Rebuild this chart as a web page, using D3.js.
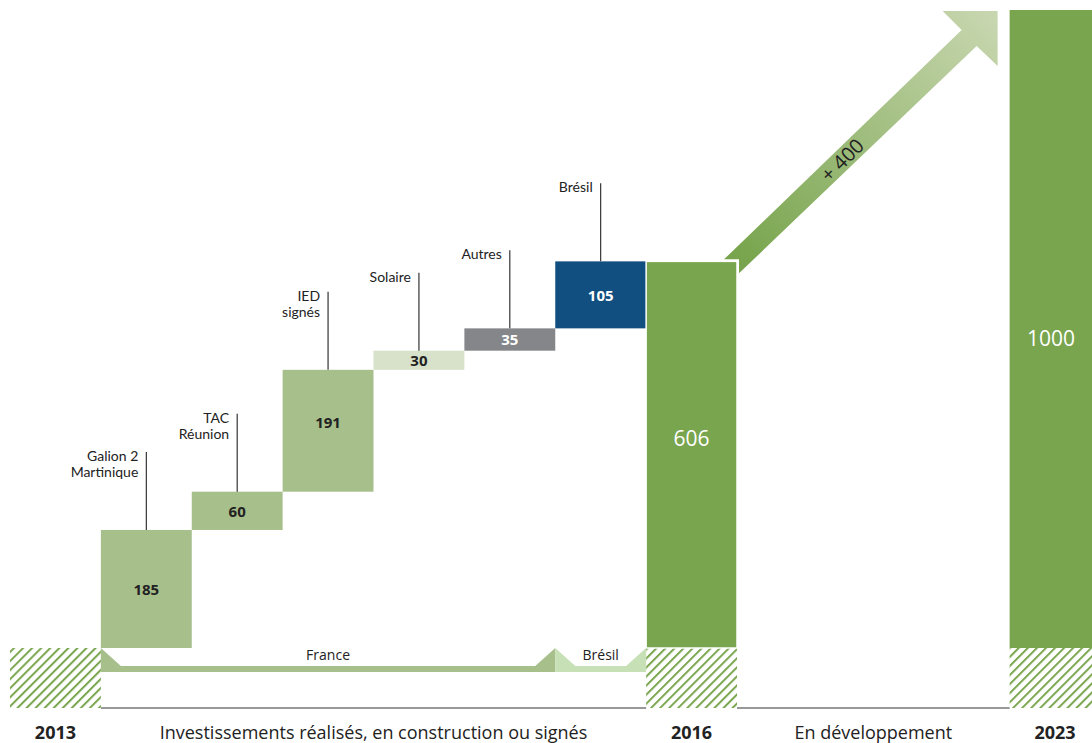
<!DOCTYPE html>
<html><head><meta charset="utf-8">
<script src="https://cdn.jsdelivr.net/npm/d3@7"></script>
<style>
html,body{margin:0;padding:0;background:#fff;}
svg{display:block;font-family:"Open Sans","Noto Sans",sans-serif;}
</style></head>
<body><svg id="c" width="1092" height="743"></svg>
<script>
// ---- data ----
const slots = ["2013","Galion","TAC","IED","Solaire","Autres","Brésil","2016","dev1","dev2","dev3","2023"];
const stepKeys = ["Galion","TAC","IED","Solaire","Autres","Brésil"];
const stepLabels = [["Galion 2","Martinique"],["TAC","Réunion"],["IED","signés"],["Solaire"],["Autres"],["Brésil"]];
const stepValues = [185, 60, 191, 30, 35, 105];
const stepColors = ["#a7bf8b","#a7bf8b","#a7bf8b","#d8e1c9","#858689","#114f80"];
const stepTextColors = ["#222","#222","#222","#222","#fff","#fff"];
const totalKeys = ["2016","2023"];
const totalValues = [606, 1000];
const growthLabel = "+ 400";
const groups = [{name:"France", from:"Galion", to:"Autres", color:"#a7bf8b"},
                {name:"Brésil", from:"Brésil", to:"Brésil", color:"#c7e0b5"}];
const bottomLabels = [
  {text:"2013", from:"2013", to:"2013", bold:true},
  {text:"Investissements réalisés, en construction ou signés", from:"Galion", to:"Brésil", bold:false},
  {text:"2016", from:"2016", to:"2016", bold:true},
  {text:"En développement", from:"dev1", to:"dev3", bold:false},
  {text:"2023", from:"2023", to:"2023", bold:true}];
const hatchSlots = ["2013","2016","2023"];

// ---- scales ----
const svg = d3.select("#c");
const x = d3.scaleBand().domain(slots).range([10, 10 + 12*90.875]).padding(0);
const y = d3.scaleLinear().domain([0, 1000]).range([648, 10]);
const bw = x.bandwidth();
const base = y(0), hatchBottom = 708;

// defs
const defs = svg.append("defs");
const pat = defs.append("pattern").attr("id","hatch").attr("patternUnits","userSpaceOnUse")
  .attr("width",6.4).attr("height",10).attr("patternTransform","rotate(45)");
pat.append("rect").attr("x",0).attr("y",0).attr("width",2).attr("height",10).attr("fill","#7aa64f");
const grad = defs.append("linearGradient").attr("id","ag").attr("gradientUnits","userSpaceOnUse");

// hatch
svg.selectAll("rect.hatch").data(hatchSlots).join("rect")
  .attr("x", d=>x(d)).attr("y", base).attr("width", bw).attr("height", hatchBottom-base)
  .attr("fill","url(#hatch)");

// baseline segments
const segs = [["Galion","Brésil"],["dev1","dev3"]];
svg.selectAll("line.base").data(segs).join("line")
  .attr("x1", d=>x(d[0])).attr("x2", d=>x(d[1])+bw)
  .attr("y1", hatchBottom).attr("y2", hatchBottom)
  .attr("stroke","#333").attr("stroke-width",1.2);

// waterfall steps
let cum = 0;
const steps = stepKeys.map((k,i)=>{ const s={key:k, v:stepValues[i], start:cum, end:cum+stepValues[i], lab:stepLabels[i], c:stepColors[i], tc:stepTextColors[i]}; cum+=stepValues[i]; return s;});
svg.selectAll("rect.step").data(steps).join("rect")
  .attr("x", d=>x(d.key)).attr("y", d=>y(d.end)).attr("width", bw)
  .attr("height", d=>y(d.start)-y(d.end)).attr("fill", d=>d.c);
svg.selectAll("text.val").data(steps).join("text")
  .attr("x", d=>x(d.key)+bw/2).attr("y", d=>(y(d.start)+y(d.end))/2 - (d.key==="IED"?8:0))
  .attr("dy","0.38em").attr("text-anchor","middle")
  .attr("font-size",15).attr("font-weight",700).attr("fill", d=>d.tc).text(d=>d.v);

// leader lines + labels
const lead = 78;
steps.forEach(d=>{
  const cx = x(d.key)+bw/2, top = y(d.end);
  svg.append("line").attr("x1",cx).attr("x2",cx).attr("y1",top-lead).attr("y2",top)
    .attr("stroke","#222").attr("stroke-width",1.1);
  d.lab.forEach((l,j)=>{
    svg.append("text").attr("x",cx-8).attr("y",top-lead+9+j*16.5).attr("text-anchor","end")
      .attr("font-family","Lato, 'Open Sans', sans-serif")
      .attr("font-size",14).attr("fill","#222").text(l);
  });
});

// arrow (from 2016 total to 2023 total)
const ax0 = x("2016")+bw, ay0 = y(totalValues[0]);
const tipX = x("2023")-12, tipY = y(totalValues[1])+1;
grad.attr("x1",ax0).attr("y1",ay0).attr("x2",tipX).attr("y2",tipY);
grad.append("stop").attr("offset","0%").attr("stop-color","#77a44c");
grad.append("stop").attr("offset","100%").attr("stop-color","#c9d7b1");
const hs = 55;
const pts = [
  [ax0-13, ay0-2], [ax0+2, ay0-2], [ax0+2, ay0+12],
  [tipX-21, tipY+35], [tipX, tipY+hs], [tipX, tipY], [tipX-hs, tipY], [tipX-36, tipY+19]
];
svg.append("path").attr("d", d3.line()(pts)+"Z").attr("fill","url(#ag)");

// totals
svg.selectAll("rect.total").data(totalKeys).join("rect")
  .attr("x", d=>x(d)).attr("y",(d,i)=>y(totalValues[i])).attr("width",bw)
  .attr("height",(d,i)=>base-y(totalValues[i])).attr("fill","#78a54e")
  .attr("stroke","#fff").attr("stroke-width",(d,i)=>i===0?1.5:0);
svg.selectAll("text.total").data(totalKeys).join("text")
  .attr("x", d=>x(d)+bw/2+(d==="2023"?-4:0))
  .attr("y",(d,i)=>(y(totalValues[i])+base)/2 + (i===0?-16:9))
  .attr("dy","0.36em").attr("text-anchor","middle").attr("font-size",21).attr("font-weight",500)
  .attr("fill","#fff").text((d,i)=>totalValues[i]);

// growth label
const mx = (ax0+tipX)/2 - 20, my = (ay0+tipY)/2 + 29;
svg.append("text").attr("transform",`translate(${mx},${my}) rotate(-45)`)
  .attr("text-anchor","middle").attr("font-size",20).attr("fill","#222").text(growthLabel);

// group brackets
groups.forEach(g=>{
  const x0 = x(g.from), x1 = x(g.to)+bw, t = base, m = base+18, b = base+24;
  const p = [[x0,t],[x0+20,m],[x1-20,m],[x1,t],[x1,b],[x0,b]];
  svg.append("path").attr("d", d3.line()(p)+"Z").attr("fill", g.color);
  svg.append("text").attr("x",(x0+x1)/2).attr("y",t+12).attr("text-anchor","middle")
    .attr("font-size",14).attr("fill","#222").text(g.name);
});

// bottom labels
svg.selectAll("text.bottom").data(bottomLabels).join("text")
  .attr("x", d=>(x(d.from)+x(d.to)+bw)/2).attr("y", 739)
  .attr("text-anchor","middle").attr("font-size",18)
  .attr("font-weight", d=>d.bold?700:400).attr("fill","#222").text(d=>d.text);
</script></body></html>
